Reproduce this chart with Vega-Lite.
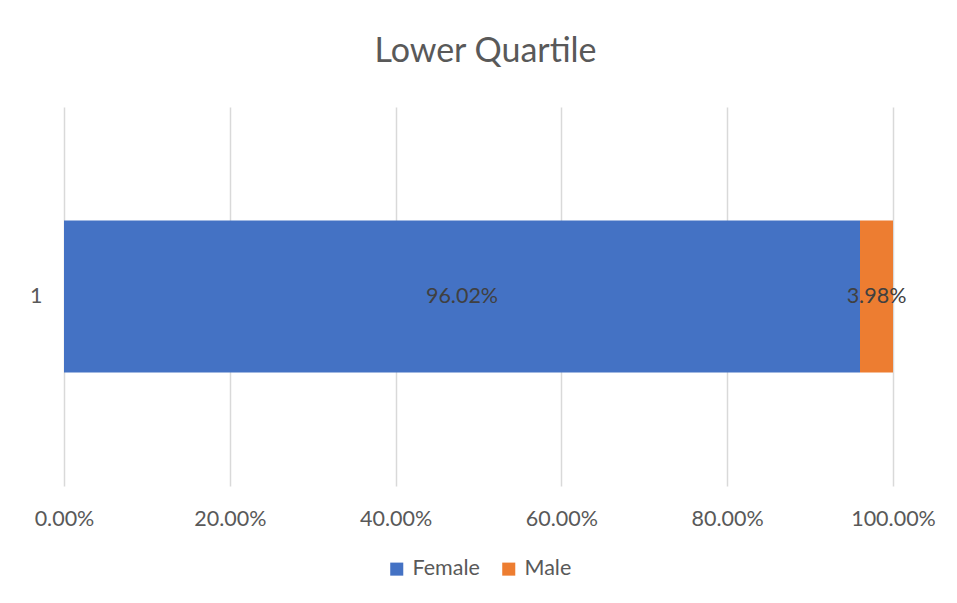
{
  "$schema": "https://vega.github.io/schema/vega-lite/v6.json",
  "width": 829,
  "height": 379,
  "autosize": {"type": "none"},
  "padding": {"left": 64, "top": 107, "right": 64, "bottom": 117},
  "background": "white",
  "title": {
    "text": "Lower Quartile",
    "font": "Lato",
    "fontSize": 34,
    "fontWeight": "normal",
    "color": "#595959",
    "anchor": "middle",
    "offset": 38,
    "dx": 7
  },
  "data": {
    "values": [
      {"group": "1", "sex": "Female", "share": 0.9602},
      {"group": "1", "sex": "Male", "share": 0.0398}
    ]
  },
  "transform": [
    {"stack": "share", "groupby": ["group"], "sort": [{"field": "sex", "order": "ascending"}], "as": ["x0", "x1"]},
    {"calculate": "(datum.x0 + datum.x1) / 2", "as": "mid"}
  ],
  "encoding": {
    "y": {
      "field": "group",
      "type": "nominal",
      "scale": {"paddingInner": 0, "paddingOuter": 0.747},
      "axis": {
        "title": null,
        "domain": false,
        "ticks": false,
        "grid": false,
        "labelFont": "Lato",
        "labelFontSize": 21.5,
        "labelColor": "#595959",
        "labelPadding": 22
      }
    }
  },
  "layer": [
    {
      "mark": {"type": "bar"},
      "encoding": {
        "x": {
          "field": "x0",
          "type": "quantitative",
          "scale": {"domain": [0, 1], "nice": false, "zero": true},
          "axis": {
            "title": null,
            "values": [0, 0.2, 0.4, 0.6, 0.8, 1],
            "format": ".2%",
            "domain": false,
            "ticks": false,
            "grid": true,
            "gridColor": "#D9D9D9",
            "gridWidth": 1.5,
            "labelFlush": false,
            "labelAlign": "center",
            "labelFont": "Lato",
            "labelFontSize": 21.5,
            "labelColor": "#595959",
            "labelPadding": 22
          }
        },
        "x2": {"field": "x1"},
        "color": {
          "field": "sex",
          "type": "nominal",
          "scale": {"domain": ["Female", "Male"], "range": ["#4472C4", "#ED7D31"]},
          "legend": {
            "title": null,
            "orient": "bottom",
            "direction": "horizontal",
            "symbolType": "square",
            "symbolSize": 170,
            "symbolStrokeWidth": 0,
            "labelFont": "Lato",
            "labelFontSize": 21.5,
            "labelColor": "#595959",
            "labelOffset": 5,
            "columnPadding": 18,
            "offset": 28
          }
        }
      }
    },
    {
      "mark": {"type": "text", "font": "Lato", "fontSize": 21.5, "color": "#404040", "baseline": "middle", "align": "center"},
      "encoding": {
        "x": {"field": "mid", "type": "quantitative"},
        "text": {"field": "share", "type": "quantitative", "format": ".2%"}
      }
    }
  ],
  "config": {
    "view": {"stroke": null},
    "legend": {"layout": {"bottom": {"anchor": "middle"}}}
  }
}
